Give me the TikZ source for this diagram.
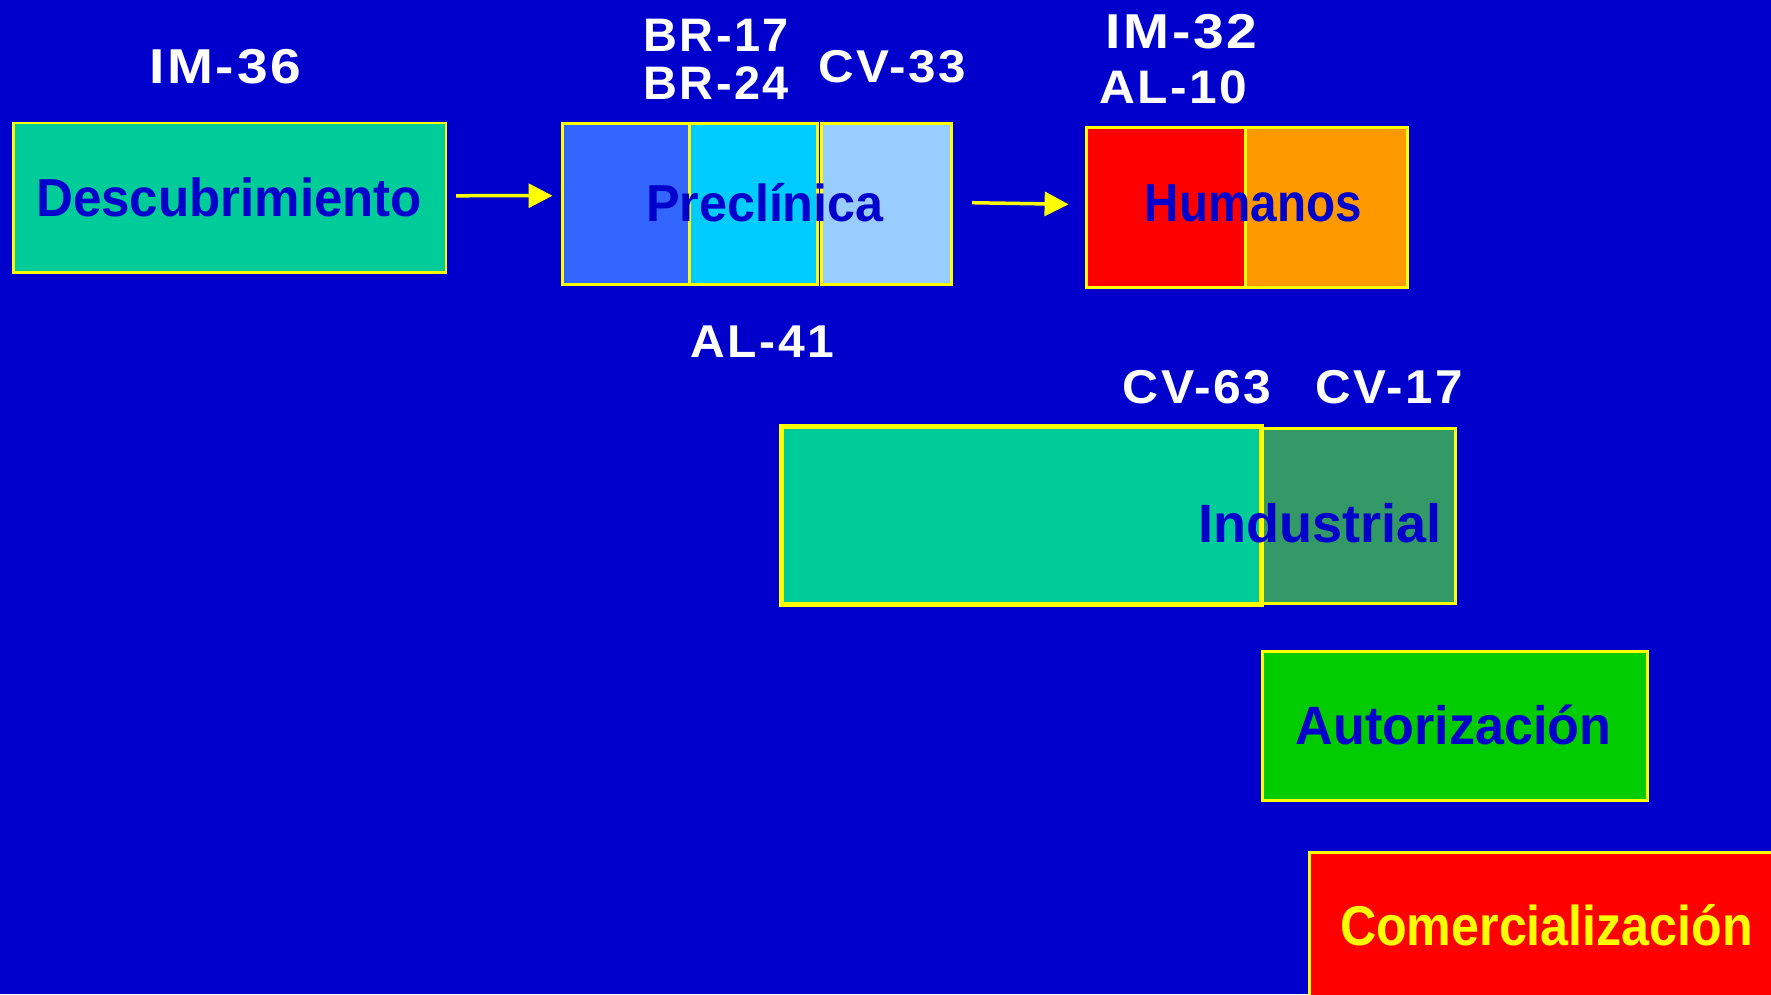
\documentclass[tikz,border=0pt]{standalone}
\usepackage{fontspec}
\setmainfont{Liberation Sans}
\newfontfamily\boxfont{Liberation Sans Bold}
\newfontfamily\tagfont[LetterSpace=5]{Liberation Sans Bold}
\usetikzlibrary{arrows.meta,calc}

\definecolor{bgblue}{HTML}{0000CC}
\definecolor{phyellow}{HTML}{FFFF00}
\definecolor{teal1}{HTML}{00CC99}
\definecolor{blue1}{HTML}{3366FF}
\definecolor{cyan1}{HTML}{00CCFF}
\definecolor{sky1}{HTML}{99CCFF}
\definecolor{red1}{HTML}{FF0000}
\definecolor{orange1}{HTML}{FF9900}
\definecolor{sea1}{HTML}{339966}
\definecolor{green1}{HTML}{00CC00}

% text squeezed or stretched to a given width, at a given size
\newcommand\boxtext[3]{\resizebox{#1pt}{\height}{\boxfont\fontsize{#2}{#2}\selectfont #3}}
\newcommand\tagtext[3]{\resizebox{#1pt}{\height}{\tagfont\fontsize{#2}{#2}\selectfont #3}}

\begin{document}
\begin{tikzpicture}[x=1pt,y=-1pt,
  phase/.style={draw=phyellow, line width=3pt, rectangle, inner sep=0pt,
    outer sep=0pt, anchor=north west},
  title/.style={inner sep=0pt, anchor=base, text=bgblue},
  tag/.style={inner sep=0pt, anchor=base west, text=white},
  flow/.style={draw=phyellow, line width=3.5pt,
    -{Triangle[length=24pt,width=24pt]}}]

\useasboundingbox (0,0) rectangle (1771,994);
\fill[bgblue] (0,0) rectangle (1771,994);

% Phase boxes
\node[phase, fill=teal1, minimum width=432.5pt, minimum height=149.5pt, line width=2.5pt] (desc) at (13.5,123) {};

\node[phase, fill=blue1, minimum width=127pt, minimum height=161pt] (pre1) at (562.5,123) {};
\node[phase, fill=cyan1, minimum width=128pt, minimum height=161pt] (pre2) at (689.5,123) {};
\node[phase, fill=sky1, minimum width=129.5pt, minimum height=161pt] (pre3) at (821.5,123) {};

\node[phase, fill=red1, minimum width=159.7pt, minimum height=160pt] (hum1) at (1086,127) {};
\node[phase, fill=orange1, minimum width=161.3pt, minimum height=160pt] (hum2) at (1245.7,127) {};

\node[phase, fill=sea1, minimum width=194pt, minimum height=175.5pt] (ind2) at (1261,428) {};
\node[phase, fill=teal1, minimum width=480pt, minimum height=177.2pt, line width=5pt] (ind1) at (781,426.8) {};

\node[phase, fill=green1, minimum width=385.5pt, minimum height=148.3pt] (aut) at (1262,651.7) {};
\node[phase, fill=red1, minimum width=470pt, minimum height=160pt] (com) at (1309.5,852) {};

% Phase names
\node[title] (tdesc) at (229.2,216) {\boxtext{386}{53.5}{Descubrimiento}};
\node[title] (tpre) at (764.8,221.7) {\boxtext{237.6}{52}{Preclínica}};
\node[title] (thum) at (1253.3,221.7) {\boxtext{216.7}{53.5}{Humanos}};
\node[title] (tind) at (1320.2,542.7) {\boxtext{243.4}{54}{Industrial}};
\node[title] (taut) at (1453.7,744.3) {\boxtext{315.6}{54}{Autorización}};
\node[title, text=phyellow] (tcom) at (1546.5,945) {\boxtext{413}{56}{Comercialización}};

% Codes
\node[tag] (im36) at (149,83.3) {\tagtext{152}{49}{IM-36}};
\node[tag] (br17) at (643.6,51.7) {\tagtext{145}{47}{BR-17}};
\node[tag] (br24) at (643.6,99) {\tagtext{145}{47}{BR-24}};
\node[tag] (cv33) at (818.6,82.7) {\tagtext{147}{46}{CV-33}};
\node[tag] (al41) at (690.7,357.3) {\tagtext{143}{46}{AL-41}};
\node[tag] (im32) at (1105,48.3) {\tagtext{152}{49}{IM-32}};
\node[tag] (al10) at (1099.3,103.3) {\tagtext{148}{47}{AL-10}};
\node[tag] (cv63) at (1122.7,403.3) {\tagtext{148.5}{47.5}{CV-63}};
\node[tag] (cv17) at (1315.6,403.3) {\tagtext{147}{47.5}{CV-17}};

% Flow arrows
\draw[flow] ([shift={(10,-2)}]desc.east) -- ([shift={(-10,-7.8)}]pre1.west);
\draw[flow] ([shift={(21,-0.8)}]pre3.east) -- ([shift={(-17.4,-2.7)}]hum1.west);

\end{tikzpicture}
\end{document}
